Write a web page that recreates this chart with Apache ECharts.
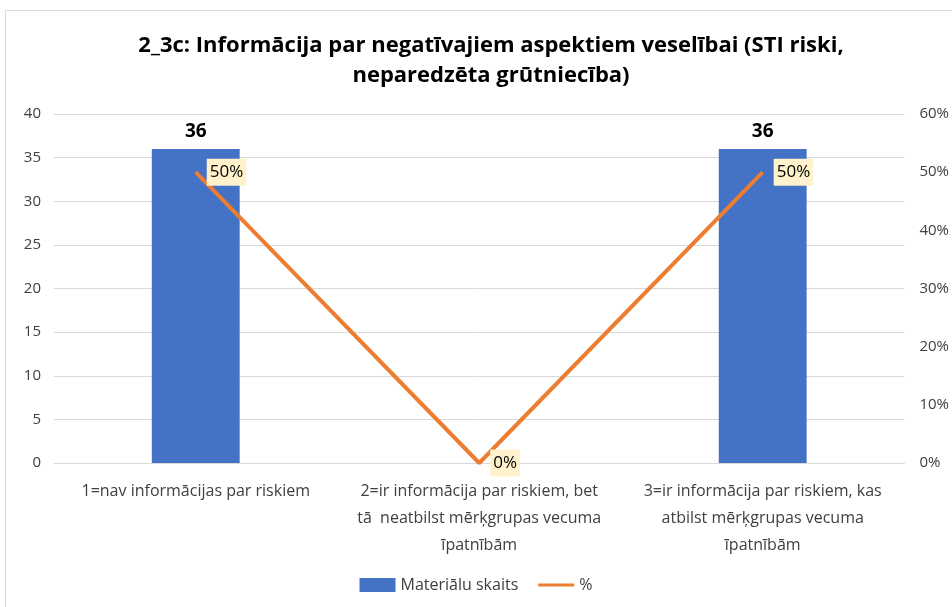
<!DOCTYPE html>
<html>
<head>
<meta charset="utf-8">
<script src="https://cdn.jsdelivr.net/npm/echarts@6/dist/echarts.min.js"></script>
<style>
  html, body { margin: 0; padding: 0; background: #fff; }
  #chart { width: 952px; height: 607px; }
</style>
</head>
<body>
<div id="chart"></div>
<script>
var categories = [
    '1=nav informācijas par riskiem',
    '2=ir informācija par riskiem, bet\ntā  neatbilst mērķgrupas vecuma\nīpatnībām',
    '3=ir informācija par riskiem, kas\natbilst mērķgrupas vecuma\nīpatnībām'
];
var counts = [36, 0, 36];
var shares = [0.5, 0, 0.5];

var myChart = echarts.init(document.getElementById('chart'));
var font = 'Open Sans';
option = {
    textStyle: { fontFamily: font },
    graphic: [{
        type: 'rect',
        shape: { x: 5.5, y: 10.5, width: 960, height: 620 },
        style: { fill: 'none', stroke: '#d9d9d9', lineWidth: 1 },
        silent: true
    }],
    title: {
        text: '2_3c: Informācija par negatīvajiem aspektiem veselībai (STI riski,\nneparedzēta grūtniecība)',
        left: 486,
        textAlign: 'center',
        top: 26,
        textStyle: {
            fontFamily: font,
            fontSize: 22,
            fontWeight: 'bold',
            color: '#000',
            lineHeight: 30
        }
    },
    legend: {
        bottom: 9,
        left: 'center',
        itemGap: 20,
        itemWidth: 36,
        itemHeight: 14,
        textStyle: { fontFamily: font, fontSize: 16, color: '#404040' },
        data: [
            { name: 'Materiālu skaits', icon: 'rect' },
            { name: '%', icon: 'path://M0,5.5 L36,5.5 L36,8.5 L0,8.5 Z' }
        ]
    },
    grid: { left: 54, right: 45, top: 114, bottom: 144 },
    xAxis: {
        type: 'category',
        data: categories,
        axisLine: { lineStyle: { color: '#d9d9d9' } },
        axisTick: { show: false },
        axisLabel: {
            interval: 0,
            color: '#404040',
            fontSize: 16,
            lineHeight: 27,
            margin: 15
        }
    },
    yAxis: [{
        type: 'value',
        min: 0, max: 40, interval: 5,
        axisLine: { show: false },
        axisTick: { show: false },
        splitLine: { lineStyle: { color: '#d9d9d9', width: 1 } },
        axisLabel: { color: '#404040', fontSize: 15, margin: 13 }
    }, {
        type: 'value',
        min: 0, max: 0.6, interval: 0.1,
        axisLine: { show: false },
        axisTick: { show: false },
        splitLine: { show: false },
        axisLabel: {
            color: '#404040', fontSize: 15, margin: 15,
            formatter: function (v) { return Math.round(v * 100) + '%'; }
        }
    }],
    series: [{
        name: 'Materiālu skaits',
        type: 'bar',
        data: counts,
        barWidth: '31%',
        itemStyle: { color: '#4472c4' },
        label: {
            show: true,
            position: 'top',
            distance: 8,
            fontSize: 19,
            fontWeight: 'bold',
            color: '#000',
            formatter: function (p) { return p.value ? p.value : ''; }
        }
    }, {
        name: '%',
        type: 'line',
        yAxisIndex: 1,
        data: shares,
        symbol: 'circle',
        symbolSize: 0,
        lineStyle: { color: '#ed7d31', width: 4 },
        itemStyle: { color: '#ed7d31' },
        label: {
            show: true,
            position: 'right',
            distance: 11,
            fontSize: 17,
            color: '#000',
            backgroundColor: '#fff2cc',
            padding: [5, 3, 5, 3],
            formatter: function (p) { return Math.round(p.value * 100) + '%'; }
        }
    }]
};
myChart.setOption(option);
</script>
</body>
</html>
